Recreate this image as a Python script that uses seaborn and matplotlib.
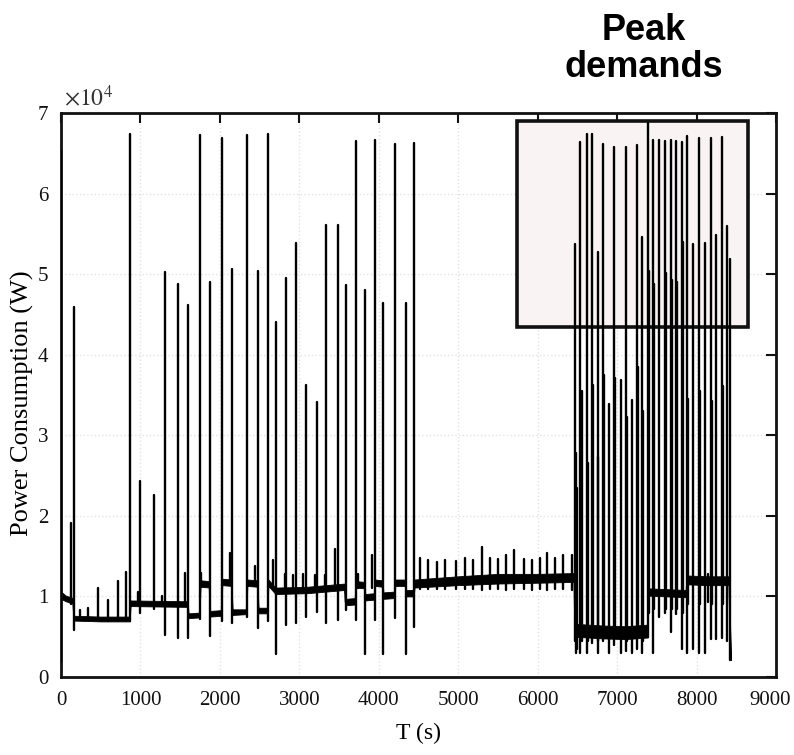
import numpy as np
import pandas as pd
import matplotlib
matplotlib.use("Agg")
import matplotlib.pyplot as plt
from matplotlib.patches import Rectangle
from matplotlib.transforms import ScaledTranslation
import seaborn as sns

# ---------------- data ----------------
# baseline band: time (s), lower and upper edge of the noisy baseline (W)
base_t = [0, 60, 150, 165, 500, 865, 875, 1595, 1605, 1745, 1755, 1868, 1878, 2020,
          2030, 2148, 2158, 2335, 2345, 2475, 2485, 2600, 2610, 2700, 2710, 3100,
          3570, 3580, 3705, 3715, 3820, 3830, 3945, 3955, 4048, 4058, 4198, 4208,
          4335, 4345, 4440, 4450, 5000, 5500, 6000, 6460, 6470, 6800, 7100, 7385,
          7395, 7870, 7880, 8150, 8410, 8430]
base_lo = [9700, 9400, 9100, 7000, 6900, 6900, 8800, 8700, 7300, 7400, 11200, 11100,
           7500, 7600, 11400, 11300, 7700, 7800, 11300, 11200, 7900, 7900, 11300,
           10300, 10300, 10400, 10800, 8900, 9000, 11100, 11000, 9500, 9600, 11300,
           11200, 9700, 9800, 11300, 11300, 10000, 10000, 11100, 11400, 11600, 11700,
           11800, 5000, 4800, 4700, 4900, 10100, 9900, 11500, 11400, 11400, 2100]
base_hi = [10600, 10100, 9800, 7600, 7500, 7500, 9500, 9400, 7900, 8000, 12000, 11900,
           8200, 8300, 12200, 12100, 8400, 8400, 12100, 12000, 8600, 8600, 12100,
           11100, 11100, 11200, 11600, 9700, 9800, 11900, 11800, 10300, 10400, 12100,
           12000, 10500, 10600, 12100, 12100, 10800, 10800, 12100, 12500, 12800, 12800,
           12900, 6600, 6400, 6300, 6500, 11000, 10800, 12600, 12500, 12500, 2400]

# spikes: time (s), top (W), bottom of the excursion (W)
spike_t = [5, 126, 160, 239, 344, 462, 596, 713, 818, 869, 973, 995, 1171, 1275, 1305,
           1469, 1561, 1595, 1746, 1760, 1872, 2023, 2127, 2149, 2337, 2442, 2476, 2602,
           2673, 2703, 2820, 2829, 2924, 2954, 3050, 3084, 3197, 3223, 3323, 3332, 3449,
           3483, 3584, 3710, 3742, 3823, 3911, 3949, 4050, 4201, 4339, 4444,
           4519, 4624, 4729, 4834, 4972, 5086, 5190, 5296, 5400, 5505, 5602, 5702, 5828,
           5925, 6030, 6114, 6219, 6323, 6429,
           6467, 6480, 6499, 6533, 6555, 6621, 6630, 6680, 6701, 6756, 6764, 6826, 6835,
           6902, 6961, 6974, 7045, 7116, 7121, 7191, 7247, 7267, 7317, 7330, 7393, 7402,
           7448, 7468, 7531, 7603, 7615, 7675, 7695, 7742, 7754, 7813, 7830, 7880, 7895,
           7960, 8027, 8045, 8106, 8145, 8182, 8190, 8242, 8317, 8330, 8383, 8417]
spike_hi = [65300, 19100, 45900, 8300, 8600, 11000, 9500, 11900, 13000, 67400, 10600,
            24300, 22600, 10100, 50300, 48800, 12900, 46200, 67300, 12900, 49000, 66900,
            15400, 50600, 67300, 13800, 50400, 67400, 14500, 44100, 12800, 49500, 12600,
            53900, 12800, 36200, 12600, 34100, 12600, 56100, 15900, 56100, 48700, 66500,
            12800, 48000, 15200, 66600, 46400, 66200, 46400, 66300,
            14800, 14500, 14300, 14500, 14400, 14800, 14500, 16100, 14800, 14700, 15100,
            15800, 14700, 14500, 14800, 15400, 14800, 15100, 15100,
            53700, 27800, 23400, 66400, 35500, 67400, 26600, 67400, 36200, 52800, 27300,
            66200, 37500, 33900, 65800, 37100, 36900, 65800, 32300, 34400, 66000, 38500,
            54600, 33000, 68800, 50400, 66700, 48800, 66600, 66500, 50100, 66600, 49300,
            66500, 49000, 66400, 54000, 67100, 34500, 53800, 66900, 35500, 53900, 12800,
            66900, 34300, 54800, 67000, 36100, 56000, 51900]
spike_lo = [1900, 9000, 5800, 7100, 7100, 7100, 7000, 7100, 7100, 7000, 8900, 8000,
            8500, 9000, 5200, 4900, 9000, 4800, 7200, 11400, 5100, 7000, 11600, 6700,
            7500, 11400, 6100, 7000, 11000, 2900, 10500, 6500, 10600, 6700, 10600, 7500,
            10700, 8100, 10800, 6700, 10900, 7100, 8300, 7100, 11100, 2900, 11100, 7100,
            2900, 7300, 2900, 6200,
            10900, 10900, 10900, 10900, 10900, 10900, 10900, 10800, 10900, 10900, 10800,
            10900, 10900, 10800, 10900, 10800, 10900, 10900, 10800,
            4500, 3000, 3500, 3000, 4500, 3000, 4500, 4200, 5000, 3000, 4500, 4500, 5000,
            3000, 4000, 5000, 3000, 3200, 4500, 3000, 3500, 5000, 3000, 4500, 5000, 8000,
            3000, 8500, 7500, 8000, 8500, 5600, 8500, 7800, 8500, 3500, 8000, 3000, 9000,
            3500, 3000, 9000, 3000, 9300, 4700, 9000, 4700, 4800, 9000, 4500, 2100]

x_ticks = [0, 1000, 2000, 3000, 4000, 5000, 6000, 7000, 8000, 9000]
y_ticks = [0, 10000, 20000, 30000, 40000, 50000, 60000, 70000]
y_tick_labels = ["0", "1", "2", "3", "4", "5", "6", "7"]

# peak-demand box (T range, W range)
box_t = [5740, 8648]
box_w = [43440, 69000]

# ---------------- figure ----------------
sns.set_style("white")
plt.rcParams["font.family"] = ["Liberation Serif", "DejaVu Serif"]
plt.rcParams["mathtext.fontset"] = "stix"
plt.rcParams["text.color"] = "black"
plt.rcParams["axes.labelcolor"] = "black"

fig = plt.figure(figsize=(7.94, 7.55), dpi=100)
ax = fig.add_axes([61 / 794, 1 - 677 / 755, 715 / 794, 564 / 755])

# highlighted box
ax.add_patch(Rectangle((box_t[0], box_w[0]), box_t[1] - box_t[0], box_w[1] - box_w[0],
                       facecolor="#f9f3f3", edgecolor="#111111", lw=2.6, zorder=1.5))

# baseline band through seaborn (min-max band over the two edges)
band = pd.DataFrame({"t": base_t + base_t, "w": base_lo + base_hi})
sns.lineplot(data=band, x="t", y="w", estimator="mean", errorbar=("pi", 100),
             color="black", lw=1.0, err_kws={"alpha": 1.0, "linewidth": 0.6,
                                             "edgecolor": "black"},
             ax=ax, zorder=2)

# spikes through seaborn (one unit per spike)
spk = pd.DataFrame({
    "t": [v for t in spike_t for v in (t, t)],
    "w": [v for lo, hi in zip(spike_lo, spike_hi) for v in (lo, hi)],
    "event": [i for i in range(len(spike_t)) for _ in (0, 1)],
})
sns.lineplot(data=spk, x="t", y="w", units="event", estimator=None, sort=False,
             color="black", lw=1.7, ax=ax, zorder=3)

ax.set_xlim(0, 9000)
ax.set_ylim(0, 70000)
ax.set_xticks(x_ticks)
ax.set_xticklabels([str(v) for v in x_ticks])
ax.set_yticks(y_ticks)
ax.set_yticklabels(y_tick_labels)
ax.grid(True, color="#e2e2e2", linestyle=":", linewidth=1.0, zorder=0)
ax.set_axisbelow(True)
for s in ax.spines.values():
    s.set_linewidth(2.0)
    s.set_color("#111111")
ax.tick_params(axis="both", direction="in", top=True, right=True, length=7, width=1.5,
               labelsize=15, colors="#111111")
ax.tick_params(axis="x", pad=10)
ax.tick_params(axis="y", pad=9)

# keep the last x label inside the canvas
last = ax.get_xticklabels()[-1]
last.set_transform(last.get_transform() + ScaledTranslation(-6 / 100, 0, fig.dpi_scale_trans))

ax.set_xlabel("T (s)", fontsize=17)
ax.set_ylabel("Power Consumption (W)", fontsize=19)
ax.xaxis.set_label_coords(0.5, -0.082)
ax.yaxis.label.set_va("center")
ax.yaxis.set_label_coords(-0.0545, 0.486)

ax.text(0.004, 1.004, r"$\times10^{4}$", transform=ax.transAxes, ha="left",
        va="bottom", fontsize=17, color="#333333")

fig.text(644 / 794, 1 - 40 / 755, "Peak", ha="center", va="baseline", color="black",
         fontsize=26, fontweight="bold", family=["Liberation Sans", "DejaVu Sans"])
fig.text(644 / 794, 1 - 77 / 755, "demands", ha="center", va="baseline", color="black",
         fontsize=26, fontweight="bold", family=["Liberation Sans", "DejaVu Sans"])

fig.savefig("out.png", dpi=100)
